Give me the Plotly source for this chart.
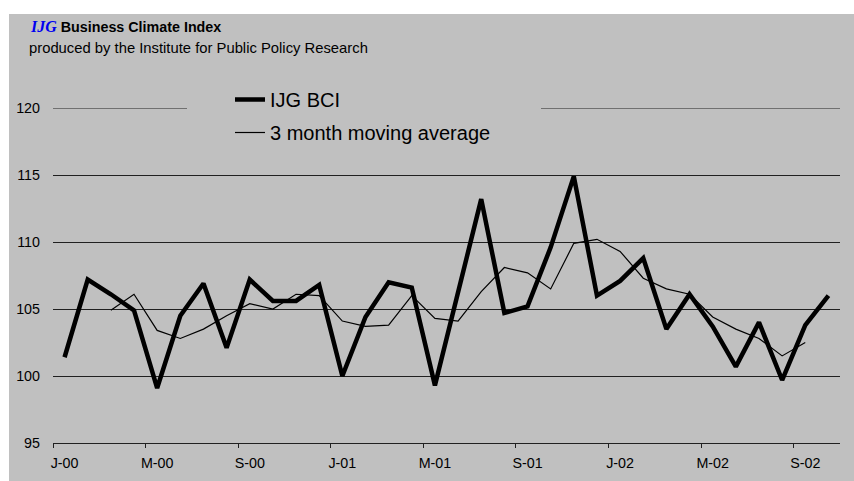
import plotly.graph_objects as go

# Monthly observations, January 2000 to October 2002
months = [f"{m}-{y:02d}" for y in (0, 1, 2)
          for m in ["Jan", "Feb", "Mar", "Apr", "May", "Jun",
                    "Jul", "Aug", "Sep", "Oct", "Nov", "Dec"]][:34]

bci = [101.4, 107.2, 106.1, 104.9, 99.1, 104.5, 106.9, 102.1, 107.2, 105.6,
       105.6, 106.8, 100.0, 104.4, 107.0, 106.6, 99.3, 106.3, 113.2, 104.7,
       105.2, 109.6, 114.9, 106.0, 107.1, 108.8, 103.5, 106.1, 103.7, 100.7,
       104.0, 99.7, 103.8, 106.0]

# 3 month moving average, available from March 2000 to September 2002
ma3 = [None, None, 104.9, 106.1, 103.4, 102.8, 103.5, 104.5, 105.4, 105.0,
       106.1, 106.0, 104.1, 103.7, 103.8, 106.0, 104.3, 104.1, 106.3, 108.1,
       107.7, 106.5, 109.9, 110.2, 109.3, 107.3, 106.5, 106.1, 104.4, 103.5,
       102.8, 101.5, 102.5, None]

tick_months = months[::4]
tick_text = ["J-00", "M-00", "S-00", "J-01", "M-01", "S-01", "J-02", "M-02", "S-02"]
y_ticks = [95, 100, 105, 110, 115, 120]

idx = list(range(len(months)))
tick_pos = [months.index(m) for m in tick_months]

FONT = "Liberation Sans, Arial, sans-serif"
GRAY = "#C0C0C0"
LINE = "#202020"

fig = go.Figure()
fig.add_trace(go.Scatter(
    x=idx, y=bci, mode="lines", name="IJG BCI",
    line=dict(color="black", width=4.5), legendgroup="a",
    customdata=months, hoverinfo="skip"))
fig.add_trace(go.Scatter(
    x=idx, y=ma3, mode="lines", name="3 month moving average",
    line=dict(color="black", width=1.2), legendgroup="b",
    connectgaps=False, hoverinfo="skip"))

L, R, T, B = 53, 14, 108, 38
W, H = 854, 481
pw, ph = W - L - R, H - T - B


def px_x(p):
    return (p - L) / pw


def px_y(p):
    return (H - B - p) / ph


fig.update_layout(
    width=W, height=H,
    margin=dict(l=L, r=R, t=T, b=B, pad=0, autoexpand=False),
    paper_bgcolor="white",
    plot_bgcolor="rgba(0,0,0,0)",
    font=dict(family=FONT, color="black", size=14),
    showlegend=True,
    legend=dict(
        x=px_x(230), y=px_y(80), xanchor="left", yanchor="top",
        bgcolor="rgba(0,0,0,0)", borderwidth=0,
        font=dict(family=FONT, size=20, color="black"),
        traceorder="grouped", tracegroupgap=4,
    ),
    xaxis=dict(
        range=[-0.5, len(months) - 0.5],
        tickmode="array", tickvals=tick_pos, ticktext=tick_text,
        ticks="", showgrid=False, zeroline=False, automargin=False,
        showline=True, linecolor=LINE, linewidth=1,
        ticklabelstandoff=7,
        tickfont=dict(family=FONT, size=14.3, color="black"),
        minor=dict(tickmode="array",
                   tickvals=[p - 0.5 for p in tick_pos],
                   ticks="outside", ticklen=4, tickcolor=LINE,
                   tickwidth=1, showgrid=False),
    ),
    yaxis=dict(
        range=[95, 120],
        tickmode="array", tickvals=y_ticks,
        ticks="", showline=False, zeroline=False, automargin=False,
        showgrid=True, gridcolor=LINE, gridwidth=1,
        ticklabelstandoff=12,
        tickfont=dict(family=FONT, size=14.3, color="black"),
    ),
    shapes=[
        # grey chart area
        dict(type="rect", xref="paper", yref="paper", layer="below",
             x0=px_x(9), x1=px_x(854), y0=px_y(490), y1=px_y(14),
             fillcolor=GRAY, line=dict(width=0)),
        # top gridline at 120
        dict(type="line", xref="paper", yref="y", layer="below",
             x0=0, x1=1, y0=y_ticks[-1], y1=y_ticks[-1],
             line=dict(color=LINE, width=1)),
        # panel behind the legend, hiding part of the top gridline
        dict(type="rect", xref="paper", yref="paper", layer="between",
             x0=px_x(187), x1=px_x(541), y0=px_y(114), y1=px_y(102),
             fillcolor=GRAY, line=dict(width=0)),
    ],
    annotations=[
        dict(xref="paper", yref="paper", x=px_x(28), y=px_y(26.5),
             xanchor="left", yanchor="middle", showarrow=False,
             text="<b><i><span style='font-family:Liberation Serif, Times New Roman, serif;"
                  "color:#0000F0;font-size:16px'>IJG</span></i> Business Climate Index</b>",
             font=dict(family=FONT, size=14.3, color="black")),
        dict(xref="paper", yref="paper", x=px_x(27), y=px_y(48),
             xanchor="left", yanchor="middle", showarrow=False,
             text="produced by the Institute for Public Policy Research",
             font=dict(family=FONT, size=14.8, color="black")),
    ],
)

fig.write_html("out.html")
